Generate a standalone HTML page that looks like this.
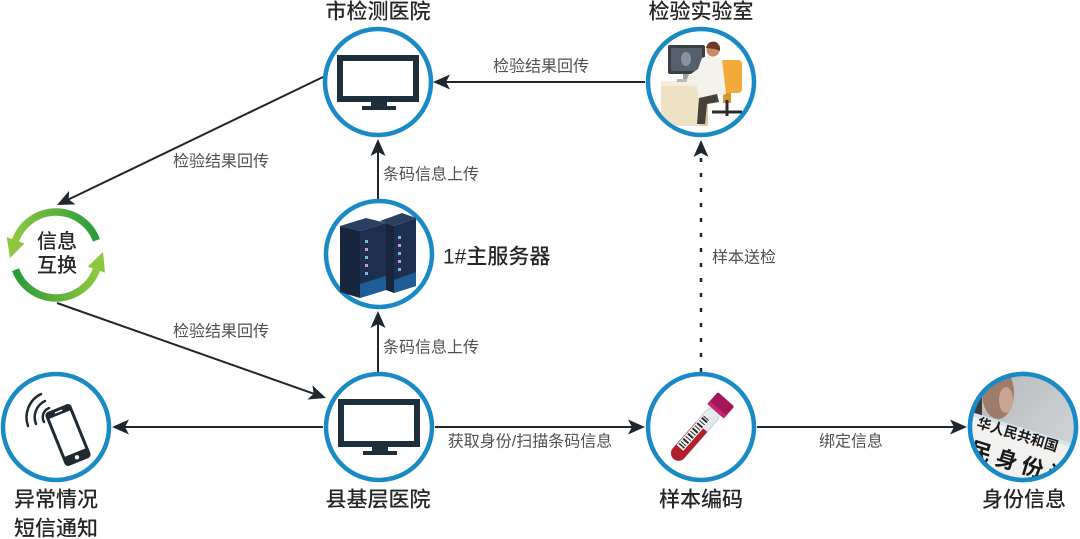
<!DOCTYPE html>
<html><head><meta charset="utf-8"><style>
html,body{margin:0;padding:0;background:#fff;}
svg{display:block;}
text{font-family:"Liberation Sans","Noto Sans CJK SC",sans-serif;}
.h{font-size:21px;fill:#262626;font-weight:500;}
.e{font-size:16px;fill:#505050;}
</style></head><body>
<svg width="1080" height="539" viewBox="0 0 1080 539" xmlns="http://www.w3.org/2000/svg">
<defs>
<marker id="ah" markerUnits="userSpaceOnUse" markerWidth="18" markerHeight="16" refX="4" refY="7.5" orient="auto">
<path d="M0,0 L17,7.5 L0,15 L4,7.5 z" fill="#1e272e"/>
</marker>
<linearGradient id="gTop" x1="0" y1="0" x2="1" y2="0"><stop offset="0" stop-color="#8dc63f"/><stop offset="1" stop-color="#2a9a3c"/></linearGradient>
<linearGradient id="gBot" x1="0" y1="0" x2="1" y2="0"><stop offset="0" stop-color="#2a9a3c"/><stop offset="1" stop-color="#8dc63f"/></linearGradient>
<clipPath id="cLab"><circle cx="701" cy="82" r="51"/></clipPath>
<clipPath id="cId"><circle cx="1023" cy="427" r="51"/></clipPath>
<linearGradient id="gIdBg" x1="0" y1="0" x2="1" y2="1"><stop offset="0" stop-color="#b3b7ba"/><stop offset="1" stop-color="#d8dbdd"/></linearGradient>
</defs>
<rect width="1080" height="539" fill="#fff"/>

<!-- connectors -->
<g stroke="#1e272e" stroke-width="2" fill="none">
<line x1="645" y1="82" x2="446" y2="82" marker-end="url(#ah)"/>
<line x1="378" y1="200" x2="378" y2="152" marker-end="url(#ah)"/>
<line x1="378" y1="372" x2="378" y2="324" marker-end="url(#ah)"/>
<line x1="323" y1="77" x2="68.7" y2="199.4" marker-end="url(#ah)"/>
<line x1="57" y1="303" x2="313.7" y2="393.7" marker-end="url(#ah)"/>
<line x1="323" y1="427" x2="125" y2="427" marker-end="url(#ah)"/>
<line x1="435" y1="427" x2="632" y2="427" marker-end="url(#ah)"/>
<line x1="757" y1="427" x2="954" y2="427" marker-end="url(#ah)"/>
<line x1="701" y1="372" x2="701" y2="153" stroke-width="2.5" stroke-dasharray="4 11" marker-end="url(#ah)"/>
</g>

<!-- circles -->
<g fill="#fff" stroke="#1a8ac6" stroke-width="4.5">
<circle cx="378" cy="82" r="53"/>
<circle cx="701" cy="82" r="53"/>
<circle cx="379" cy="254" r="53"/>
<circle cx="379" cy="427" r="53"/>
<circle cx="56" cy="427" r="53"/>
<circle cx="701" cy="427" r="53"/>
<circle cx="1023" cy="427" r="53"/>
</g>

<!-- city monitor -->
<g fill="#1f2e3b">
<rect x="340" y="58" width="76" height="41" fill="#fff" stroke="#1f2e3b" stroke-width="6"/>
<rect x="371" y="101" width="16" height="6"/>
<rect x="362" y="106" width="34" height="4"/>
</g>
<!-- county monitor -->
<g fill="#1f2e3b">
<rect x="341" y="402" width="76" height="42" fill="#fff" stroke="#1f2e3b" stroke-width="6"/>
<rect x="372" y="446" width="16" height="6"/>
<rect x="363" y="451" width="34" height="4"/>
</g>

<!-- server -->
<g>
<polygon points="340,226 366,218 386,223 360,231" fill="#2b3f60"/>
<polygon points="340,226 360,231 360,298 340,292" fill="#17253f"/>
<polygon points="360,231 386,223 386,290 360,298" fill="#1d2f4e"/>
<polygon points="380,221 402,213 416,218 394,226" fill="#2b3f60"/>
<polygon points="386,223 394,226 394,293 386,290" fill="#17253f"/>
<polygon points="394,226 416,218 416,286 394,293" fill="#1d2f4e"/>
<polygon points="360,284 386,276 386,290 360,298" fill="#1f5d96"/>
<polygon points="394,280 416,272 416,286 394,293" fill="#1f5d96"/>
<g fill="#7fb3e0">
<rect x="365" y="240" width="3" height="3"/><rect x="365" y="248" width="3" height="3" fill="#d88fbb"/><rect x="365" y="256" width="3" height="3"/><rect x="365" y="264" width="3" height="3" fill="#d88fbb"/><rect x="365" y="272" width="3" height="3"/>
<rect x="398" y="236" width="3" height="3"/><rect x="398" y="244" width="3" height="3" fill="#d88fbb"/><rect x="398" y="252" width="3" height="3"/><rect x="398" y="260" width="3" height="3" fill="#d88fbb"/><rect x="398" y="268" width="3" height="3"/>
</g>
</g>

<!-- lab illustration -->
<g clip-path="url(#cLab)">
<polygon points="661,84 700,84 700,126 661,126" fill="#efe2c4"/>
<polygon points="661,81 704,81 708,86 661,86" fill="#f6eedb"/>
<polygon points="700,86 708,86 708,126 700,126" fill="#d9c9a6"/>
<rect x="668" y="45" width="37" height="29" rx="2" fill="#3a3f46"/>
<rect x="671" y="48" width="31" height="23" fill="#56606c"/>
<ellipse cx="686" cy="59" rx="5" ry="7" fill="#8a94a0"/>
<rect x="683" y="74" width="6" height="6" fill="#9aa0a6"/>
<rect x="677" y="79" width="18" height="3" fill="#b7b9bb"/>
<rect x="716" y="60" width="26" height="33" rx="4" fill="#f3aa3a"/>
<rect x="723" y="93" width="8" height="10" fill="#d8942e"/>
<path d="M712,112 L742,112 M727,100 L727,116" stroke="#2b2b2b" stroke-width="3"/>
<path d="M702,58 Q713,53 722,59 L726,94 L712,98 L699,100 L696,82 L686,84 L688,76 L698,69 Z" fill="#f3f2ec"/>
<path d="M699,98 L717,94 L719,102 L707,104 L705,124 L697,124 Z" fill="#45403a"/>
<circle cx="713" cy="50" r="6.5" fill="#c98a6a"/>
<path d="M706,48 Q708,40 716,42 Q721,45 720,51 L715,49 Z" fill="#6b3a24"/>
</g>

<!-- phone -->
<g transform="translate(68,435) rotate(-22)">
<rect x="-14" y="-29" width="28" height="58" rx="4" fill="#1f2a30"/>
<rect x="-11" y="-22" width="22" height="41" fill="#fff"/>
<circle cx="0" cy="24" r="2.2" fill="#fff"/>
<rect x="-4" y="-26" width="8" height="1.5" fill="#fff"/>
</g>
<g fill="none" stroke="#1f2a30" stroke-width="2.5" stroke-linecap="round">
<path d="M44,422 A10,10 0 0 1 49,408"/>
<path d="M36,424 A18,18 0 0 1 45,401"/>
<path d="M28,426 A26,26 0 0 1 41,394"/>
</g>

<!-- test tube -->
<g transform="translate(699,430) rotate(-48.6)">
<rect x="-38" y="-7.5" width="64" height="15" rx="7" fill="#e6eaee" stroke="#c9cfd4" stroke-width="1"/>
<path d="M-31,-7.5 L4,-7.5 L4,7.5 L-31,7.5 A7.5,7.5 0 0 1 -31,-7.5 Z" fill="#b11f2c"/>
<rect x="-26" y="-7" width="42" height="9" fill="#f4f4f4"/>
<g fill="#2a2a2a">
<rect x="-24" y="-6" width="1.5" height="7"/><rect x="-21" y="-6" width="1" height="7"/><rect x="-18" y="-6" width="2" height="7"/><rect x="-14" y="-6" width="1" height="7"/><rect x="-11" y="-6" width="2" height="7"/><rect x="-7" y="-6" width="1" height="7"/><rect x="-4" y="-6" width="2" height="7"/><rect x="0" y="-6" width="1" height="7"/><rect x="3" y="-6" width="2" height="7"/><rect x="7" y="-6" width="1" height="7"/><rect x="10" y="-6" width="2" height="7"/><rect x="13" y="-6" width="1" height="7"/>
</g>
<rect x="25" y="-11" width="16" height="22" rx="2" fill="#a3175a"/>
<rect x="25" y="-11" width="4" height="22" fill="#c2276f"/>
</g>

<!-- ID card photo -->
<g clip-path="url(#cId)">
<rect x="968" y="372" width="112" height="112" fill="url(#gIdBg)"/>
<rect x="968" y="372" width="14" height="48" fill="#3b3a38"/>
<ellipse cx="998" cy="393" rx="16" ry="26" fill="#9a7462" opacity="0.9"/>
<ellipse cx="1006" cy="400" rx="7" ry="13" fill="#c9a493"/>
<polygon points="965,410 1080,446 1080,490 965,490" fill="#f3f1ef"/>
<polygon points="965,410 1080,446 1080,450 965,414" fill="#d6e4ee"/>
<text x="0" y="0" transform="translate(976,427) rotate(17)" font-family="'Liberation Serif','Noto Serif CJK SC',serif" font-size="14" font-weight="bold" fill="#1a1a1a">华人民共和国</text>
<text x="0" y="0" transform="translate(968,456) rotate(17)" font-family="'Liberation Serif','Noto Serif CJK SC',serif" font-size="22" font-weight="bold" fill="#1a1a1a" letter-spacing="5">民身份证</text>
</g>
<circle cx="1023" cy="427" r="53" fill="none" stroke="#1a8ac6" stroke-width="4.5"/>

<!-- info exchange ring -->
<g fill="none" stroke-width="7.5">
<path d="M96.4,240.3 A43,43 0 0 0 15.6,240.3" stroke="url(#gTop)"/>
<path d="M15.6,269.7 A43,43 0 0 0 96.4,269.7" stroke="url(#gBot)"/>
</g>
<polygon points="24.5,243.5 6.7,237.1 10,258" fill="#8dc63f"/>
<polygon points="105,272.8 87.9,266.6 103,252" fill="#8dc63f"/>
<text x="57" y="242" class="h" text-anchor="middle" dominant-baseline="central" style="font-size:20px">信息</text>
<text x="57" y="266" class="h" text-anchor="middle" dominant-baseline="central" style="font-size:20px">互换</text>

<!-- node labels -->
<text x="378" y="12" class="h" text-anchor="middle" dominant-baseline="central">市检测医院</text>
<text x="701" y="12" class="h" text-anchor="middle" dominant-baseline="central">检验实验室</text>
<text x="443" y="257" class="h" dominant-baseline="central">1#主服务器</text>
<text x="378" y="500" class="h" text-anchor="middle" dominant-baseline="central">县基层医院</text>
<text x="56" y="500" class="h" text-anchor="middle" dominant-baseline="central">异常情况</text>
<text x="56" y="529" class="h" text-anchor="middle" dominant-baseline="central">短信通知</text>
<text x="701" y="500" class="h" text-anchor="middle" dominant-baseline="central">样本编码</text>
<text x="1024" y="500" class="h" text-anchor="middle" dominant-baseline="central">身份信息</text>

<!-- edge labels -->
<text x="541" y="67" class="e" text-anchor="middle" dominant-baseline="central">检验结果回传</text>
<text x="221" y="162" class="e" text-anchor="middle" dominant-baseline="central">检验结果回传</text>
<text x="221" y="332" class="e" text-anchor="middle" dominant-baseline="central">检验结果回传</text>
<text x="383" y="175" class="e" dominant-baseline="central">条码信息上传</text>
<text x="383" y="348" class="e" dominant-baseline="central">条码信息上传</text>
<text x="712" y="258" class="e" dominant-baseline="central">样本送检</text>
<text x="530" y="442" class="e" text-anchor="middle" dominant-baseline="central">获取身份/扫描条码信息</text>
<text x="851" y="442" class="e" text-anchor="middle" dominant-baseline="central">绑定信息</text>
</svg>
</body></html>
